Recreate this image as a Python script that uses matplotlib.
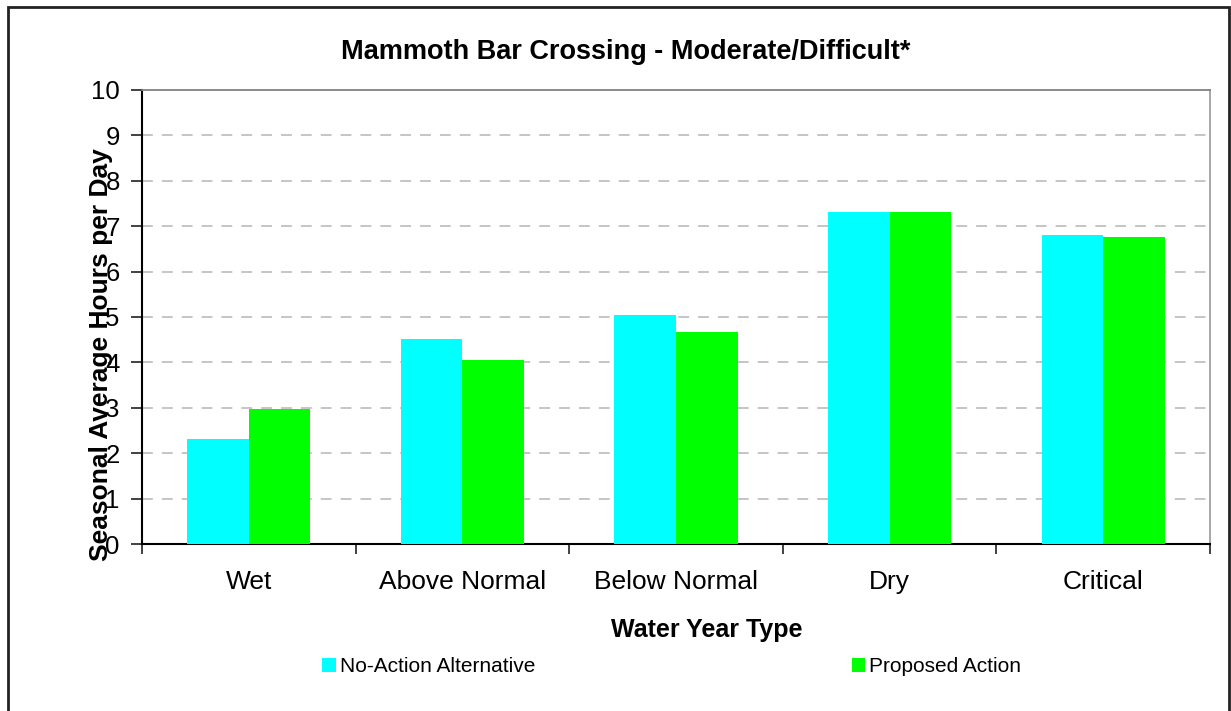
import matplotlib
matplotlib.use("Agg")
import matplotlib.pyplot as plt
from matplotlib.patches import Rectangle, Patch
import numpy as np

categories = ["Wet", "Above Normal", "Below Normal", "Dry", "Critical"]
no_action = [2.31, 4.52, 5.04, 7.31, 6.81]
proposed = [2.97, 4.05, 4.67, 7.31, 6.76]
series_names = ["No-Action Alternative", "Proposed Action"]
yticks = list(range(0, 11))

plt.rcParams['font.family'] = ['Liberation Sans', 'DejaVu Sans']

W, H = 1231, 711
fig = plt.figure(figsize=(W / 100, H / 100), dpi=100)
ax = fig.add_axes([142 / W, 1 - 544 / H, (1210 - 142) / W, (544 - 90) / H])

x = np.arange(len(categories))
bw = 0.288
ax.bar(x - bw / 2, no_action, bw, color="#00FFFF", zorder=3, label=series_names[0])
ax.bar(x + bw / 2, proposed, bw, color="#00FF00", zorder=3, label=series_names[1])

ax.set_xlim(-0.5, len(categories) - 0.5)
ax.set_ylim(0, 10)
ax.set_yticks(yticks)
ax.set_yticklabels([str(t) for t in yticks], fontsize=18.5)
ax.set_xticks(np.arange(len(categories) + 1) - 0.5)
ax.set_xticklabels([])
ax.set_xticks(x, minor=True)
ax.set_xticklabels(categories, minor=True, fontsize=19)
ax.tick_params(axis='x', which='minor', length=0, pad=19)
ax.tick_params(axis='x', which='major', length=7, width=1.3, color='#333333', direction='out')
ax.tick_params(axis='y', length=8, width=1.3, color='#333333', pad=8)

for y in range(1, 10):
    ax.axhline(y, color="#c0c0c0", lw=1.3, dashes=(6, 5), zorder=1)

ax.spines['left'].set_color('black')
ax.spines['left'].set_linewidth(1.5)
ax.spines['bottom'].set_color('black')
ax.spines['bottom'].set_linewidth(1.5)
ax.spines['top'].set_color('#808080')
ax.spines['top'].set_linewidth(1.3)
ax.spines['right'].set_color('#a0a0a0')
ax.spines['right'].set_linewidth(1.3)

fig.text(626 / W, 1 - 52 / H, "Mammoth Bar Crossing - Moderate/Difficult*",
         fontsize=19.5, fontweight='bold', ha='center', va='center')
fig.text(707 / W, 1 - 630 / H, "Water Year Type",
         fontsize=18, fontweight='bold', ha='center', va='center')
fig.text(101 / W, 1 - 355 / H, "Seasonal Average Hours per Day",
         fontsize=19, fontweight='bold', ha='center', va='center', rotation=90)

handles = [Patch(facecolor="#00FFFF"), Patch(facecolor="#00FF00")]
fig.legend(handles, series_names, loc='center left', bbox_to_anchor=(322 / W, 1 - 667 / H),
           ncol=2, frameon=False, fontsize=15, handlelength=0.65, handleheight=0.65,
           handletextpad=0.2, columnspacing=15.2, borderpad=0, borderaxespad=0)

fig.add_artist(Rectangle((8 / W, -0.02), (1229 - 8) / W, 1.02 - 7 / H,
                         transform=fig.transFigure, fill=False, edgecolor='#222222', lw=2))

fig.savefig("out.png", dpi=100)
